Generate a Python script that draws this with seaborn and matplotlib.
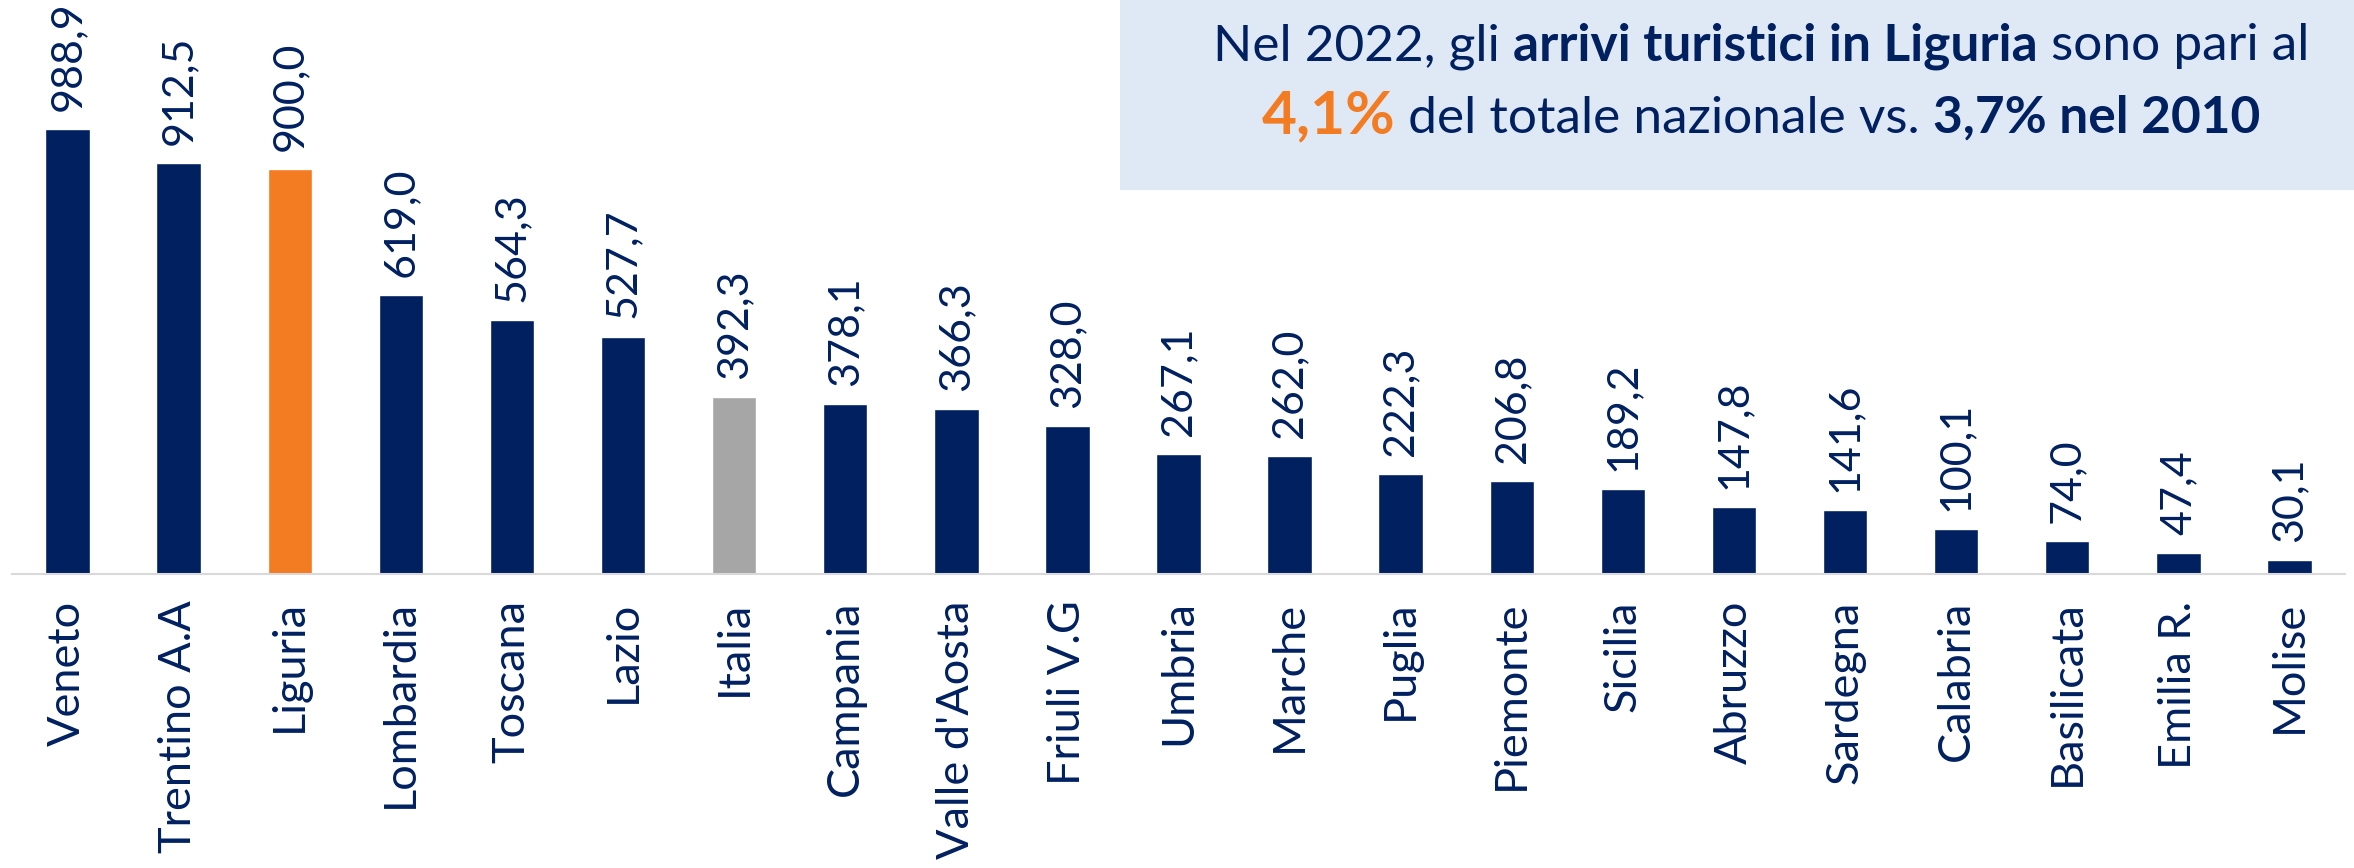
import matplotlib
matplotlib.use("Agg")
import matplotlib.pyplot as plt
from matplotlib.patches import Rectangle
import seaborn as sns
import pandas as pd

# dati: arrivi turistici per regione (valori come in figura)
regioni = ["Veneto", "Trentino A.A", "Liguria", "Lombardia", "Toscana", "Lazio", "Italia",
           "Campania", "Valle d'Aosta", "Friuli V.G", "Umbria", "Marche", "Puglia", "Piemonte",
           "Sicilia", "Abruzzo", "Sardegna", "Calabria", "Basilicata", "Emilia R.", "Molise"]
valori = [988.9, 912.5, 900.0, 619.0, 564.3, 527.7, 392.3,
          378.1, 366.3, 328.0, 267.1, 262.0, 222.3, 206.8,
          189.2, 147.8, 141.6, 100.1, 74.0, 47.4, 30.1]
evidenza = {"Liguria": "orange", "Italia": "gray"}

C = {'navy': '#002060', 'orange': '#F37B21', 'gray': '#A6A6A6',
     'box': '#DEE9F5', 'axis': '#D9D9D9'}

sns.set_style("white")
plt.rcParams['font.family'] = ['Lato', 'DejaVu Sans']

df = pd.DataFrame({'regione': regioni, 'valore': valori})
palette = {r: C[evidenza.get(r, 'navy')] for r in regioni}

W, H, DPI = 2354, 868, 100
fig = plt.figure(figsize=(W / DPI, H / DPI), dpi=DPI, facecolor='white')
ax = fig.add_axes([12 / W, 1 - 574 / H, 2333 / W, 574 / H])

sns.barplot(data=df, x='regione', y='valore', hue='regione', palette=palette,
            width=0.4, dodge=False, legend=False, saturation=1, ax=ax)

ax.set_xlim(-0.5, len(regioni) - 0.5)
ax.set_ylim(0, 574 / 0.45)
ax.set_xlabel("")
ax.set_ylabel("")
ax.set_yticks([])
for s in ['top', 'right', 'left']:
    ax.spines[s].set_visible(False)
ax.spines['bottom'].set_color(C['axis'])
ax.spines['bottom'].set_linewidth(1.5)
ax.tick_params(axis='x', length=0, pad=19, labelsize=32.5, labelcolor=C['navy'], rotation=90)

# etichette valori
for i, v in enumerate(valori):
    ax.annotate(f"{v:.1f}".replace('.', ','), xy=(i, v), xytext=(0, 13),
                textcoords='offset points', rotation=90, ha='center', va='bottom',
                fontsize=31, color=C['navy'])

# riquadro di testo
fig.patches.append(Rectangle((1120 / W, 1 - 190 / H), 1 - 1120 / W, 190 / H,
                             transform=fig.transFigure, facecolor=C['box'],
                             edgecolor='none', zorder=1))

righe = [
    (60, [("Nel 2022, gli ", 'normal', C['navy'], 37),
          ("arrivi turistici in Liguria", 'bold', C['navy'], 37),
          (" sono pari al", 'normal', C['navy'], 37)]),
    (133, [("4,1%", 'bold', C['orange'], 43.5),
           (" del totale nazionale vs. ", 'normal', C['navy'], 37),
           ("3,7% nel 2010", 'bold', C['navy'], 37)]),
]
centro_x = 1761
fig.canvas.draw()
renderer = fig.canvas.get_renderer()
for base_y, pezzi in righe:
    testi = []
    for txt, peso, col, size in pezzi:
        t = fig.text(0, 1 - base_y / H, txt, fontweight=peso, color=col, fontsize=size,
                     va='baseline', ha='left', zorder=3)
        testi.append(t)
    larghezze = [t.get_window_extent(renderer).width for t in testi]
    x = centro_x - sum(larghezze) / 2
    for t, w in zip(testi, larghezze):
        t.set_x(x / W)
        x += w

fig.savefig("out.png", dpi=DPI, facecolor='white')
